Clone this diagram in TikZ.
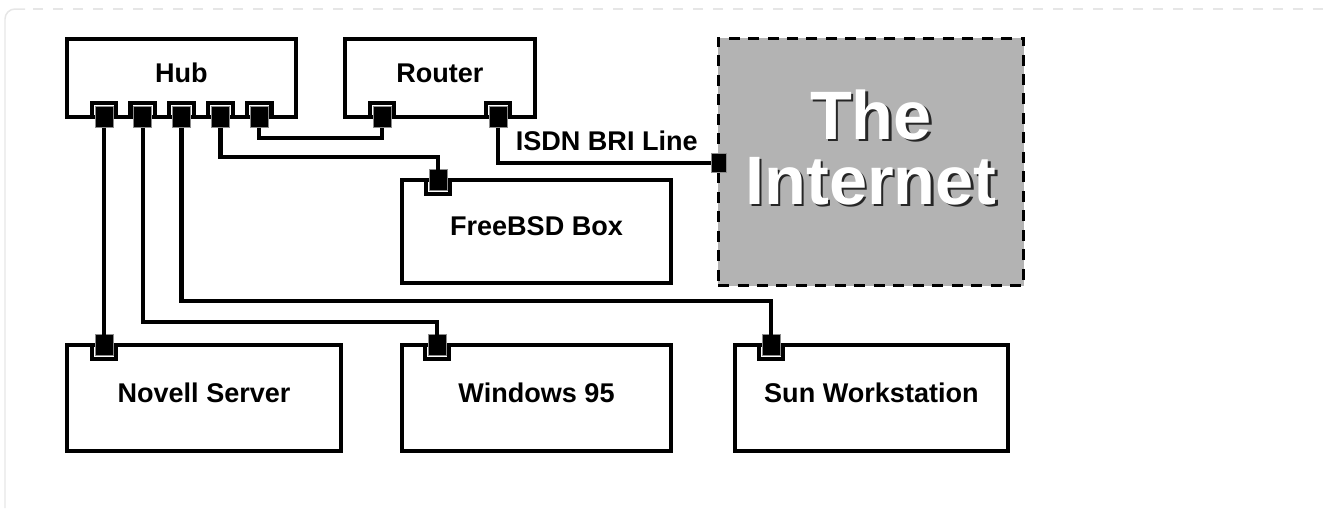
\documentclass[tikz,border=0pt]{standalone}
\usepackage{fontspec}
\setmainfont{Liberation Sans}
\usetikzlibrary{positioning}
\definecolor{framegray}{HTML}{E6E6E6}
\definecolor{netgray}{HTML}{B3B3B3}

\begin{document}
\begin{tikzpicture}[
    x=0.02cm, y=-0.02cm,
    every node/.style={font=\fontsize{15.4}{18}\selectfont\bfseries},
    device/.style={draw, line width=0.085cm, fill=white, inner sep=0pt, outer sep=0pt, text depth=0.2cm},
    netbox/.style={draw, line width=0.06cm, dash pattern=on 0.22cm off 0.17cm, fill=netgray, inner sep=0pt, outer sep=0pt, minimum width=6.12cm, minimum height=4.96cm},
    bigtext/.style={font=\fontsize{39}{37}\selectfont\bfseries, align=center, inner sep=0pt},
    notch/.style={draw, fill=white, line width=0.085cm, minimum width=0.49cm, minimum height=0.28cm, inner sep=0pt, outer sep=0pt},
    plug/.style={fill=black, draw=black!45, line width=0.5pt, minimum width=0.36cm, minimum height=0.42cm, inner sep=0pt, outer sep=0pt},
    wire/.style={line width=0.085cm}
]
    \useasboundingbox (0,0) rectangle (1325,508);

    % page frame
    \draw[framegray, line width=0.03cm, rounded corners=0.2cm] (5,508) -- (5,9) -- (25,9);
    \draw[framegray, line width=0.03cm, dash pattern=on 0.2cm off 0.2cm] (33,9) -- (1325,9);

    % top row
    \node[device, minimum width=4.58cm, minimum height=1.56cm, anchor=north west] (hub) at (67,39) {Hub};
    \node[device, minimum width=3.8cm, minimum height=1.56cm, right=0.98cm of hub] (router) {Router};
    \node[device, minimum width=5.38cm, minimum height=2.06cm, anchor=north west] (bsd) at (402,180) {FreeBSD Box};

    % the internet
    \node[netbox, anchor=north west] (inet) at (718,38) {};
    \node[bigtext, text=black!85] (inetshadow) at ([shift={(2.5,-12)}]inet.center) {The\\Internet};
    \node[bigtext, text=white] (inettext) at ([shift={(0,-14.5)}]inet.center) {The\\Internet};

    % bottom row
    \node[device, minimum width=5.38cm, minimum height=2.12cm, anchor=north west] (win) at (402,345) {Windows 95};
    \node[device, minimum width=5.48cm, minimum height=2.12cm, left=1.22cm of win] (novell) {Novell Server};
    \node[device, minimum width=5.46cm, minimum height=2.12cm, right=1.28cm of win] (sun) {Sun Workstation};

    % ports
    \foreach \p/\px in {A/104,B/142.8,C/181.6,D/220.4,E/259.2} {
        \node[notch, anchor=south] at (\px,117) {};
        \node[plug] (hub\p) at (\px,117) {};
    }
    \foreach \p/\px in {A/382,B/498} {
        \node[notch, anchor=south] at (\px,117) {};
        \node[plug] (rt\p) at (\px,117) {};
    }
    \foreach \p/\px/\py in {bsdp/438/180,novp/104/345,winp/437/345,sunp/771/345} {
        \node[notch, anchor=north] at (\px,\py) {};
        \node[plug] (\p) at (\px,\py) {};
    }
    \node[plug, minimum width=0.31cm, minimum height=0.39cm] (inetp) at (719,163) {};

    % wires
    \draw[wire] (hubE.south) -- ++(0,10.5) -| (rtA.south);
    \draw[wire] (hubD.south) -- ++(0,29.5) -| (bsdp.north);
    \draw[wire] (rtB.south) |- node[pos=0.755, above=0.2cm, inner sep=0pt] (isdn) {ISDN BRI Line} (inetp.west);
    \draw[wire] (hubC.south) -- ++(0,173.5) -| (sunp.north);
    \draw[wire] (hubB.south) -- ++(0,194.5) -| (winp.north);
    \draw[wire] (hubA.south) -- (novp.north);
\end{tikzpicture}
\end{document}
